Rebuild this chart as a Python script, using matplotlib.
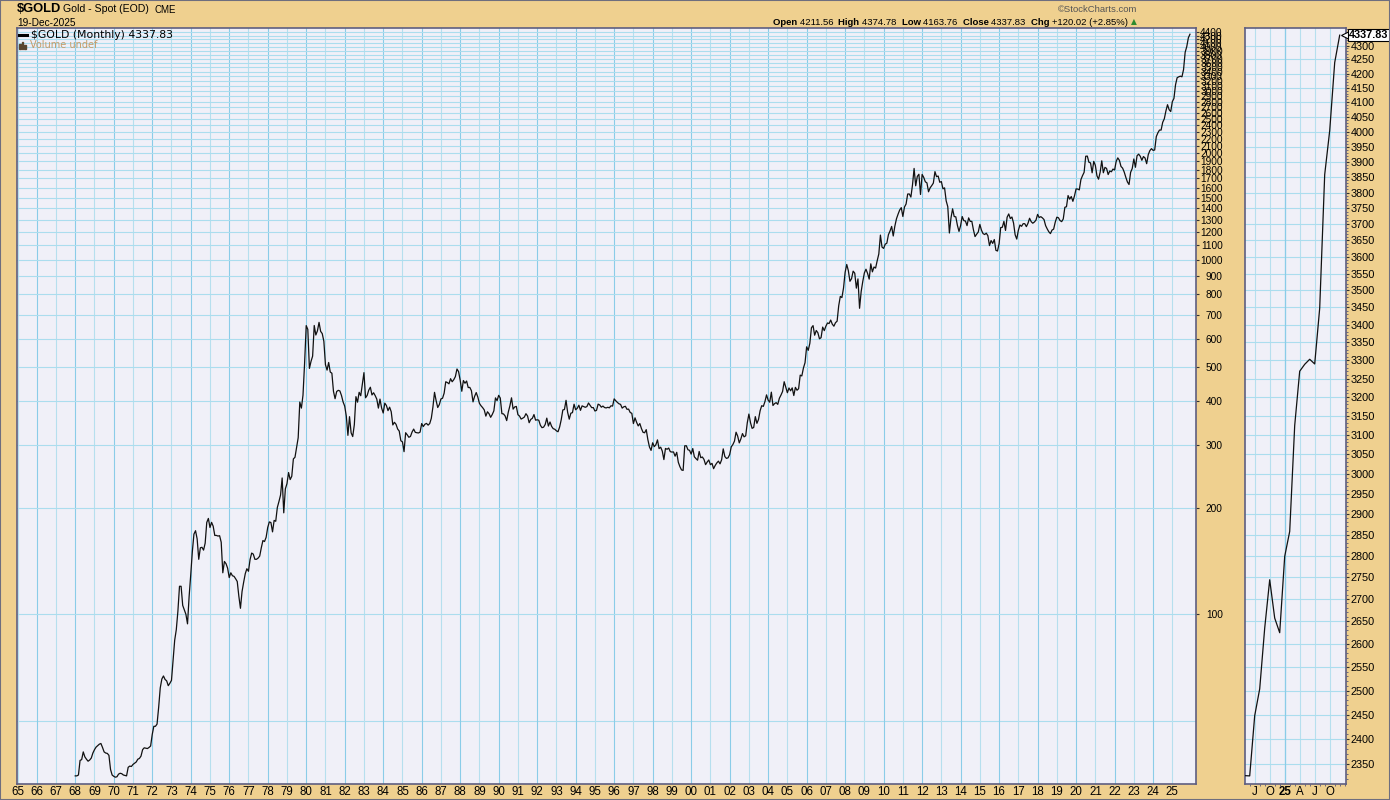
import numpy as np
import matplotlib
matplotlib.use("Agg")
import matplotlib.pyplot as plt
import matplotlib.transforms as mtransforms
from matplotlib.lines import Line2D
from matplotlib.patches import Rectangle

# ---------------- data (monthly closes, $GOLD) ----------------
START_YEAR = 1968
gold_1968_1971 = [
    35.0, 35.0, 35.2, 38.7, 38.9, 40.9, 39.6, 39.0, 38.5, 38.8, 39.3, 40.6,
    41.5, 42.2, 42.6, 43.0, 43.2, 42.1, 40.9, 40.6, 40.5, 40.0, 36.5, 35.2,
    34.9, 34.7, 34.8, 35.4, 35.6, 35.5, 35.2, 35.1, 35.0, 37.0, 37.3, 37.2,
    37.7, 38.0, 38.3, 39.0, 39.2, 39.8, 41.5, 42.0, 41.9, 41.8, 42.1, 42.5]
gold_1972_1979 = [
    45.8, 48.3, 48.3, 49.0, 54.6, 62.0, 65.7, 67.0, 65.5, 64.9, 62.9, 63.9,
    65.1, 74.2, 84.5, 90.5, 102.0, 120.0, 120.0, 106.0, 103.0, 100.0, 94.0, 112.3,
    129.2, 150.2, 168.4, 172.2, 163.3, 143.0, 154.1, 154.6, 151.8, 158.8, 181.7, 186.5,
    175.8, 181.8, 177.3, 167.0, 167.0, 166.3, 166.7, 159.8, 131.0, 141.0, 139.0, 135.0,
    127.0, 131.0, 128.5, 128.0, 126.0, 123.8, 112.5, 104.0, 116.0, 123.2, 130.2, 134.5,
    132.3, 142.8, 148.9, 147.9, 143.0, 143.0, 144.1, 146.0, 154.1, 161.5, 160.5, 164.9,
    175.8, 182.3, 181.6, 170.9, 184.1, 183.1, 200.3, 208.1, 217.1, 242.6, 193.4, 226.0,
    233.7, 251.3, 240.1, 245.3, 274.6, 277.5, 295.7, 315.1, 397.3, 382.0, 415.7, 512.0]
gold_1980_1989 = [
    653.0, 637.0, 494.5, 517.5, 535.5, 653.5, 614.3, 631.3, 666.8, 629.0, 619.8, 589.8,
    506.5, 489.0, 513.8, 482.8, 479.3, 426.0, 406.0, 425.5, 428.8, 427.0, 414.5, 397.5,
    387.0, 362.6, 320.0, 361.3, 325.3, 317.5, 342.9, 411.5, 397.0, 423.3, 414.0, 447.0,
    481.0, 408.5, 414.8, 429.3, 437.5, 416.0, 422.0, 414.3, 405.0, 382.0, 405.0, 382.4,
    370.0, 394.5, 388.5, 375.8, 384.3, 373.1, 342.4, 348.3, 343.8, 333.5, 329.0, 309.0,
    306.7, 287.8, 325.5, 321.0, 316.0, 317.8, 327.0, 333.3, 326.3, 325.5, 325.0, 326.8,
    345.5, 338.8, 344.0, 345.8, 342.0, 345.5, 357.5, 384.7, 423.2, 401.0, 383.5, 390.9,
    405.5, 407.3, 421.0, 453.3, 451.0, 447.3, 462.5, 453.4, 459.5, 468.8, 492.5, 484.1,
    458.0, 426.2, 456.9, 449.0, 455.5, 436.6, 437.0, 427.8, 397.8, 412.4, 422.6, 410.3,
    394.0, 387.8, 383.2, 377.6, 362.6, 373.0, 368.3, 359.8, 366.5, 375.3, 408.2, 401.0]
gold_1990_1999 = [
    415.1, 407.7, 368.5, 367.8, 363.1, 352.2, 372.3, 387.8, 408.4, 379.5, 384.9, 386.2,
    366.0, 362.7, 355.7, 357.8, 360.4, 368.4, 362.9, 347.4, 354.9, 357.5, 366.3, 353.2,
    354.1, 353.1, 341.7, 336.4, 337.5, 343.4, 357.9, 340.0, 349.0, 339.3, 334.2, 332.9,
    329.5, 327.6, 337.8, 354.3, 377.5, 378.5, 401.8, 371.6, 355.5, 369.6, 370.9, 391.8,
    377.9, 381.6, 389.2, 376.5, 387.6, 385.8, 384.0, 385.8, 394.9, 389.1, 383.1, 383.3,
    374.9, 376.4, 392.0, 389.8, 384.3, 387.1, 383.4, 382.4, 384.0, 382.7, 387.8, 387.0,
    405.6, 400.7, 396.4, 392.9, 391.3, 382.0, 385.3, 386.5, 379.0, 379.5, 371.3, 369.3,
    345.5, 358.6, 348.2, 340.2, 345.6, 334.6, 326.4, 325.4, 332.1, 311.4, 296.8, 290.2,
    304.9, 297.4, 301.0, 310.7, 293.6, 296.3, 288.9, 273.4, 293.9, 292.3, 294.7, 287.8,
    287.1, 287.3, 279.5, 286.6, 268.6, 261.0, 255.6, 254.8, 299.0, 299.1, 291.4, 290.3]
gold_2000_2009 = [
    283.3, 293.7, 278.4, 275.1, 272.3, 288.2, 276.8, 278.0, 273.7, 264.5, 269.1, 272.7,
    264.5, 266.7, 257.7, 263.2, 267.5, 270.6, 265.9, 273.0, 293.1, 278.8, 275.5, 276.5,
    282.3, 296.9, 301.4, 308.2, 326.6, 318.5, 304.7, 312.8, 323.7, 316.9, 319.1, 347.2,
    367.5, 347.5, 334.9, 336.8, 361.4, 346.0, 354.8, 375.6, 388.0, 386.3, 398.4, 416.3,
    402.2, 396.9, 423.7, 388.5, 393.3, 395.8, 391.4, 407.3, 415.7, 425.6, 453.4, 438.0,
    422.2, 435.5, 427.5, 435.7, 414.5, 437.1, 429.0, 433.3, 473.3, 470.8, 495.7, 513.0,
    568.8, 556.0, 582.0, 644.0, 653.0, 613.5, 632.5, 623.5, 599.3, 603.8, 646.7, 632.0,
    650.5, 664.2, 661.8, 677.0, 659.1, 650.5, 665.5, 672.0, 743.0, 789.5, 783.5, 833.8,
    923.3, 971.5, 933.5, 871.0, 885.8, 930.3, 918.0, 833.0, 884.5, 730.8, 814.5, 869.8,
    919.5, 942.0, 916.5, 883.3, 975.5, 926.0, 955.5, 949.0, 995.8, 1040.0, 1175.8, 1087.5]
gold_2010_2019 = [
    1078.5, 1108.3, 1115.5, 1179.3, 1207.5, 1244.0, 1169.0, 1246.0, 1307.0, 1346.8, 1383.5, 1405.5,
    1327.0, 1411.0, 1439.0, 1535.5, 1536.5, 1505.5, 1628.5, 1813.5, 1620.0, 1722.0, 1746.0, 1531.0,
    1744.0, 1711.0, 1662.5, 1651.3, 1558.0, 1598.5, 1622.0, 1648.5, 1776.0, 1719.0, 1726.0, 1657.5,
    1664.8, 1588.5, 1598.3, 1469.0, 1414.5, 1192.0, 1314.5, 1394.8, 1326.5, 1324.0, 1253.0, 1204.5,
    1251.0, 1326.5, 1291.8, 1288.5, 1250.5, 1315.0, 1285.3, 1285.8, 1216.5, 1164.3, 1182.8, 1199.3,
    1260.3, 1214.0, 1187.0, 1180.3, 1190.6, 1171.0, 1098.4, 1135.0, 1114.0, 1142.4, 1065.1, 1060.3,
    1111.8, 1234.9, 1237.0, 1285.7, 1212.1, 1320.8, 1349.0, 1309.3, 1322.5, 1272.0, 1178.1, 1145.9,
    1212.8, 1255.6, 1244.9, 1266.4, 1266.2, 1242.3, 1269.5, 1311.8, 1283.1, 1270.2, 1280.2, 1296.5,
    1345.1, 1317.9, 1325.5, 1315.0, 1300.5, 1250.5, 1224.0, 1201.3, 1187.3, 1214.8, 1222.5, 1279.0,
    1321.0, 1316.1, 1292.3, 1283.4, 1305.6, 1409.0, 1413.7, 1520.3, 1485.3, 1510.9, 1464.3, 1517.3]
gold_2020_2025 = [
    1587.9, 1585.7, 1577.2, 1686.3, 1730.3, 1768.1, 1962.8, 1964.9, 1887.6, 1879.9, 1762.6, 1898.4,
    1850.3, 1728.8, 1691.1, 1769.1, 1905.3, 1763.2, 1825.8, 1813.6, 1742.8, 1783.4, 1774.5, 1805.9,
    1795.3, 1899.4, 1942.2, 1911.3, 1837.0, 1817.0, 1771.5, 1712.0, 1660.6, 1633.6, 1768.5, 1812.4,
    1928.4, 1826.9, 1969.0, 1990.0, 1962.7, 1912.3, 1959.1, 1940.2, 1870.1, 1983.9, 2036.5, 2062.4,
    2039.0, 2044.3, 2229.9, 2286.3, 2327.3, 2326.8, 2447.6, 2503.4, 2634.6, 2744.0, 2657.0, 2624.5,
    2798.4, 2857.8, 3124.0, 3270.0, 3289.0, 3303.0, 3290.0, 3448.0, 3858.0, 4003.0, 4239.0, 4337.83]

main_ytick_values = list(range(100, 4401, 100))
year_ticks = list(range(1965, 2026))
zoom_months = 20
zoom_ytick_values = list(range(2350, 4301, 50))
zoom_xtick_months = [6, 9, 12, 15, 18, 21]
zoom_xtick_labels = ["J", "O", "25", "A", "J", "O"]

ohlc_labels = ["Open", "High", "Low", "Close", "Chg"]
ohlc_values = ["4211.56", "4374.78", "4163.76", "4337.83", "+120.02 (+2.85%)"]
last_close = 4337.83

# ---------------- styling ----------------
TAN = "#EFD08F"
PLOT_BG = "#F0F0F8"
GRID_DARK = "#8ACCE8"
GRID_LIGHT = "#B6DFEE"
GRID_H = "#ABDDEE"
SPINE = "#5E5E80"
FONT = "Liberation Sans"

plt.rcParams["font.family"] = [FONT, "DejaVu Sans"]

W, H = 1390, 800
fig = plt.figure(figsize=(W / 100, H / 100), dpi=100)
fig.patch.set_facecolor(TAN)

def fx(px):
    return px / W

def fy(py):
    return 1 - py / H

prices = np.array(gold_1968_1971 + gold_1972_1979 + gold_1980_1989 +
                  gold_1990_1999 + gold_2000_2009 + gold_2010_2019 + gold_2020_2025)
n = len(prices)
t = START_YEAR + np.arange(n) / 12.0

# ---------------- main panel ----------------
ax = fig.add_axes([fx(17), 16 / H, (1196 - 17) / W, (784 - 28) / H])
ax.set_facecolor(PLOT_BG)
ax.set_yscale("log")
ax.set_ylim(33.2, 4517)
ax.set_xlim(1964.974, 2026.23)

even = [y for y in year_ticks if y % 2 == 0]
odd = [y for y in year_ticks if y % 2 == 1]
ax.set_xticks(even, [f"{y % 100:02d}" for y in even])
ax.set_xticks(odd, [f"{y % 100:02d}" for y in odd], minor=True)
ax.tick_params(axis="x", which="both", length=0, pad=1.5, labelsize=8.3, colors="black")

ax.yaxis.tick_right()
ax.set_yticks(main_ytick_values, [str(v) for v in main_ytick_values])
ax.yaxis.set_minor_locator(matplotlib.ticker.NullLocator())
ax.tick_params(axis="y", which="major", length=2.5, width=0.8, color="#333333",
               pad=16.8, labelsize=7.3)
for lab in ax.get_yticklabels():
    lab.set_horizontalalignment("right")

ax.grid(True, axis="x", which="major", color=GRID_DARK, lw=0.8)
ax.grid(True, axis="x", which="minor", color=GRID_LIGHT, lw=0.8)
ax.grid(True, axis="y", which="major", color=GRID_H, lw=0.8)
ax.axhline(50, color=GRID_H, lw=0.8, zorder=0.5)
ax.set_axisbelow(True)
for s in ax.spines.values():
    s.set_color(SPINE)
    s.set_linewidth(1.2)

ax.plot(t, prices, color="#111111", lw=0.9, zorder=3)

# legend text inside main panel
fig.add_artist(Line2D([fx(19), fx(27)], [fy(35), fy(35)], color="black", lw=2.2))
fig.text(fx(31), fy(35), "$GOLD (Monthly) 4337.83", family="DejaVu Sans", fontsize=7.8,
         va="center", ha="left", color="black")
for i, h in enumerate([5, 7, 4]):
    fig.add_artist(Rectangle((fx(19 + 2.6 * i), fy(49)), fx(1.8), h / H,
                             color="#5a4630", transform=fig.transFigure))
fig.text(fx(30), fy(45.5), "Volume undef", family="DejaVu Sans", fontsize=7.0,
         va="center", ha="left", color="#C49C68")

# ---------------- zoom panel (last months) ----------------
ax2 = fig.add_axes([fx(1245), 16 / H, (1346 - 1245) / W, (784 - 28) / H])
ax2.set_facecolor(PLOT_BG)
ax2.set_yscale("log")
ax2.set_ylim(2311, 4364)
month_index = np.arange(n) - (2024 - START_YEAR) * 12
zm = month_index[-zoom_months:]
zp = prices[-zoom_months:]
ax2.set_xlim(4.06, 24.26)

ax2.yaxis.tick_right()
ax2.set_yticks(zoom_ytick_values, [str(v) for v in zoom_ytick_values])
ax2.set_yticks(list(range(2320, 4361, 10)), minor=True)
ax2.yaxis.set_minor_formatter(matplotlib.ticker.NullFormatter())
ax2.tick_params(axis="y", which="major", length=2.5, width=0.8, color="#333333",
                pad=0.8, labelsize=7.8)
ax2.tick_params(axis="y", which="minor", length=1.5, width=0.6, color="#555577")

ax2.set_xticks(zoom_xtick_months, zoom_xtick_labels)
ax2.set_xticks(list(range(5, 25)), minor=True)
ax2.tick_params(axis="x", which="major", length=0, pad=1.5, labelsize=8.3)
ax2.tick_params(axis="x", which="minor", length=1.5, width=0.6, color="#555577")
for lab in ax2.get_xticklabels():
    if lab.get_text() == "25":
        lab.set_fontweight("bold")

ax2.grid(True, axis="y", which="major", color=GRID_H, lw=0.8)
ax2.grid(True, axis="x", which="major", color=GRID_LIGHT, lw=0.8)
ax2.axvline(12, color=GRID_DARK, lw=0.9, zorder=0.6)
ax2.set_axisbelow(True)
for s in ax2.spines.values():
    s.set_color(SPINE)
    s.set_linewidth(1.2)

ax2.plot(zm, zp, color="#111111", lw=0.9, zorder=3)

# last price tag
bt = mtransforms.blended_transform_factory(ax2.transAxes, ax2.transData)
ax2.plot([1.0], [last_close], marker="<", ms=6.5, mfc="white", mec="black", mew=0.8,
         transform=bt, clip_on=False, zorder=5)
ax2.text(1.028, last_close, f"{last_close:.2f}", transform=bt, ha="left", va="center",
         fontsize=7.8, fontweight="bold", clip_on=False, zorder=6,
         bbox=dict(boxstyle="square,pad=0.12", fc="white", ec="black", lw=0.8))

# ---------------- header ----------------
fig.text(fx(17), fy(9.5), "$GOLD", fontsize=9.3, fontweight="bold", va="center", ha="left")
fig.text(fx(63), fy(9.5), "Gold - Spot (EOD)", fontsize=7.6, va="center", ha="left")
fig.text(fx(154.5), fy(9.8), "CME", fontsize=7.0, va="center", ha="left")
fig.text(fx(17), fy(22.5), "19-Dec-2025", fontsize=7.3, va="center", ha="left")
fig.text(fx(1137), fy(9.3), "\u00a9StockCharts.com", fontsize=6.8, va="center", ha="right",
         color="#555555")

renderer = fig.canvas.get_renderer()
pieces = []
for lab, val in zip(ohlc_labels, ohlc_values):
    pieces.append((lab + " ", "bold"))
    pieces.append((val, "normal"))

def layout_ohlc(size, draw):
    x_right = 1128.0
    total = 0.0
    for i, (txt, wt) in enumerate(reversed(pieces)):
        if wt == "normal" and i > 0:
            txt = txt + "  "
        tt = fig.text(fx(x_right), fy(22.5), txt, fontsize=size, fontweight=wt,
                      va="center", ha="right")
        bb = tt.get_window_extent(renderer=renderer)
        if not draw:
            tt.remove()
        x_right -= bb.width
        total += bb.width
    return total

base = 7.6
width = layout_ohlc(base, False)
layout_ohlc(min(base, base * (1128 - 776) / width), True)
fig.text(fx(1134), fy(22), "\u25b2", family="DejaVu Sans", fontsize=5.5, color="#2E8B2E",
         va="center", ha="center")

# figure border
fig.add_artist(Rectangle((0, 0), 1, 1, transform=fig.transFigure, fill=False,
                         ec="#6E6E7E", lw=1.5))

fig.savefig("out.png", dpi=100, facecolor=fig.get_facecolor())
